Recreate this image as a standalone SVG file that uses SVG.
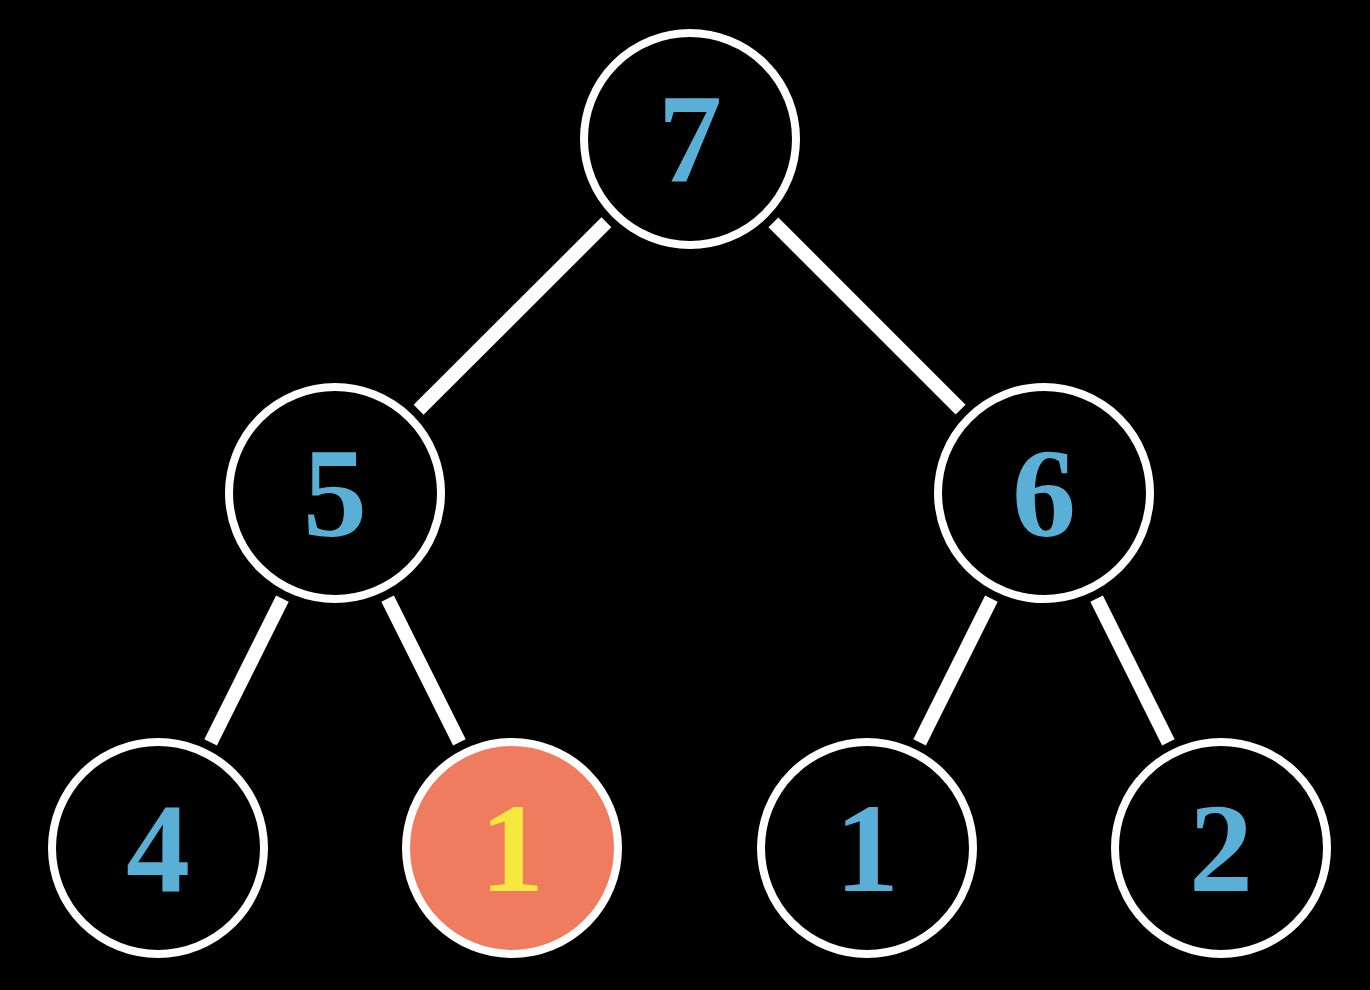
<svg xmlns="http://www.w3.org/2000/svg" width="1370" height="990" viewBox="0 0 1370 990">
<style>
.bg{fill:#000}
.edge{stroke:#fff;stroke-width:14;stroke-linecap:butt;fill:none}
.node{fill:#000;stroke:#fff;stroke-width:8}
.hl{fill:#EF7C5F}
.lbl{font-family:"Liberation Serif","DejaVu Serif",serif;font-weight:bold;font-size:128px;fill:#5AAFD6;text-anchor:middle}
.lblhl{fill:#F7E840}
</style>
<rect class="bg" x="0" y="0" width="1370" height="990"/>
<g id="connectors">
<line class="edge" x1="606.4" y1="222.3" x2="418.6" y2="409.7"/>
<line class="edge" x1="773.4" y1="222.4" x2="960.6" y2="409.6"/>
<line class="edge" x1="282.4" y1="598.6" x2="210.6" y2="742.4"/>
<line class="edge" x1="387.6" y1="598.6" x2="459.4" y2="742.4"/>
<line class="edge" x1="991.4" y1="598.6" x2="919.6" y2="742.4"/>
<line class="edge" x1="1096.6" y1="598.6" x2="1168.4" y2="742.4"/>
</g>
<g id="n7"><circle class="node" cx="690" cy="139" r="106"/><text class="lbl" x="690" y="182">7</text></g>
<g id="n5"><circle class="node" cx="335" cy="493" r="106"/><text class="lbl" x="335" y="536">5</text></g>
<g id="n6"><circle class="node" cx="1044" cy="493" r="106"/><text class="lbl" x="1044" y="536">6</text></g>
<g id="n4"><circle class="node" cx="158" cy="848" r="106"/><text class="lbl" x="158" y="891">4</text></g>
<g id="n1a"><circle class="node hl" cx="512" cy="848" r="106"/><text class="lbl lblhl" x="512" y="891">1</text></g>
<g id="n1b"><circle class="node" cx="867" cy="848" r="106"/><text class="lbl" x="867" y="891">1</text></g>
<g id="n2"><circle class="node" cx="1221" cy="848" r="106"/><text class="lbl" x="1221" y="891">2</text></g>
</svg>
